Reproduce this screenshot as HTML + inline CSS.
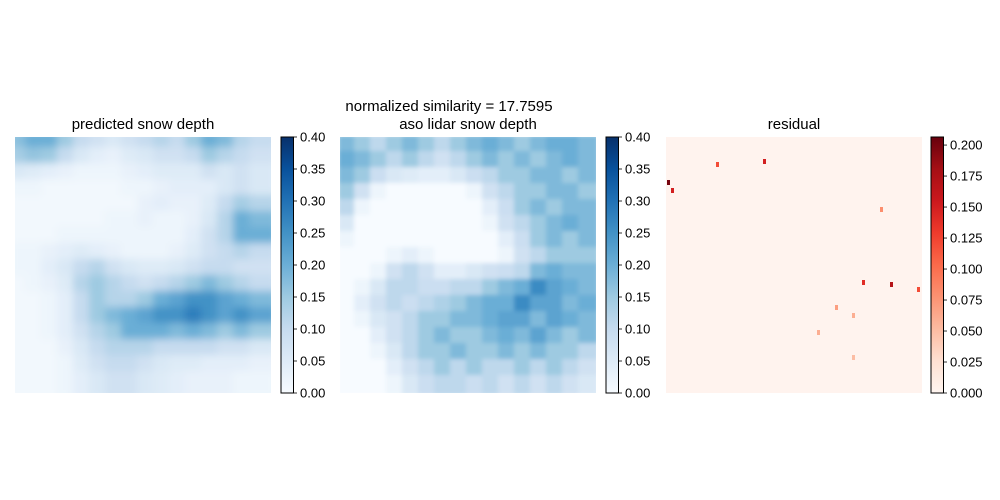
<!DOCTYPE html>
<html><head><meta charset="utf-8"><style>
body{margin:0;background:#fff;}
svg{display:block;font-family:"Liberation Sans","DejaVu Sans",sans-serif;}
</style></head><body>
<svg id="fig" width="1000" height="500" viewBox="0 0 1000 500" xmlns="http://www.w3.org/2000/svg">
<defs>
<linearGradient id="gBlues" x1="0" y1="1" x2="0" y2="0">
<stop offset="0" stop-color="#f7fbff"/><stop offset=".125" stop-color="#deebf7"/><stop offset=".25" stop-color="#c6dbef"/><stop offset=".375" stop-color="#9ecae1"/><stop offset=".5" stop-color="#6baed6"/><stop offset=".625" stop-color="#4292c6"/><stop offset=".75" stop-color="#2171b5"/><stop offset=".875" stop-color="#08519c"/><stop offset="1" stop-color="#08306b"/>
</linearGradient>
<linearGradient id="gReds" x1="0" y1="1" x2="0" y2="0">
<stop offset="0" stop-color="#fff5f0"/><stop offset=".125" stop-color="#fee0d2"/><stop offset=".25" stop-color="#fcbba1"/><stop offset=".375" stop-color="#fc9272"/><stop offset=".5" stop-color="#fb6a4a"/><stop offset=".625" stop-color="#ef3b2c"/><stop offset=".75" stop-color="#cb181d"/><stop offset=".875" stop-color="#a50f15"/><stop offset="1" stop-color="#67000d"/>
</linearGradient>
<filter id="blur" x="0" y="0" width="100%" height="100%"><feGaussianBlur stdDeviation="4"/></filter>
<filter id="blur2" x="0" y="0" width="100%" height="100%"><feGaussianBlur stdDeviation="2"/></filter>
<clipPath id="c1"><rect x="15" y="137" width="256" height="256"/></clipPath>
<clipPath id="c2"><rect x="340" y="137" width="256" height="256"/></clipPath>
</defs>
<text x="143" y="129" font-size="15" text-anchor="middle">predicted snow depth</text>
<text x="449" y="111" font-size="15" text-anchor="middle">normalized similarity = 17.7595</text>
<text x="468" y="129" font-size="15" text-anchor="middle">aso lidar snow depth</text>
<text x="794" y="129" font-size="15" text-anchor="middle">residual</text>
<g id="p1" clip-path="url(#c1)"><g id="p1in" filter="url(#blur)"></g></g>
<g id="p2" clip-path="url(#c2)"><g id="p2in" filter="url(#blur2)"></g></g>
<g id="p3"></g>
<g id="cbs"></g>
</svg>
<script>
const predicted = [
[.17,.2,.2,.15,.1,.08,.06,.08,.1,.12,.1,.15,.2,.18,.12,.1],
[.14,.16,.15,.1,.06,.04,.03,.05,.06,.08,.08,.1,.15,.12,.1,.08],
[.06,.05,.04,.03,.02,.02,.02,.03,.04,.05,.05,.05,.08,.06,.08,.06],
[.02,.02,.01,.01,.01,.01,.01,.02,.02,.03,.04,.04,.04,.06,.08,.06],
[.01,.01,.01,.01,.01,.01,.01,.01,.03,.04,.03,.03,.05,.1,.14,.12],
[.01,.01,.01,.01,.01,.01,.02,.02,.03,.02,.02,.03,.06,.12,.2,.18],
[.01,.01,.01,.02,.02,.02,.02,.02,.02,.02,.02,.04,.08,.12,.2,.2],
[.02,.02,.03,.04,.05,.04,.03,.02,.02,.02,.03,.05,.08,.1,.12,.1],
[.02,.02,.04,.06,.1,.12,.08,.06,.05,.05,.06,.08,.1,.1,.08,.08],
[.01,.02,.03,.05,.12,.15,.12,.1,.08,.1,.12,.15,.18,.15,.12,.1],
[.01,.01,.02,.04,.1,.15,.12,.12,.15,.2,.22,.25,.25,.22,.2,.18],
[.01,.01,.02,.04,.1,.15,.18,.2,.22,.25,.25,.28,.25,.22,.25,.22],
[.01,.01,.02,.04,.08,.12,.15,.2,.2,.2,.18,.2,.18,.15,.18,.15],
[.01,.01,.01,.03,.06,.1,.12,.12,.12,.1,.1,.1,.1,.08,.08,.06],
[.01,.01,.01,.02,.05,.08,.1,.1,.08,.06,.05,.05,.04,.04,.04,.03],
[.01,.01,.01,.02,.04,.06,.08,.08,.06,.05,.04,.03,.03,.03,.02,.02]];
const lidar = [
[.18,.15,.11,.15,.18,.15,.11,.15,.18,.2,.18,.15,.18,.2,.2,.18],
[.2,.18,.15,.11,.15,.11,.08,.11,.15,.18,.15,.18,.15,.18,.2,.18],
[.18,.15,.09,.06,.05,.04,.04,.06,.09,.11,.15,.15,.18,.18,.15,.18],
[.15,.08,.02,0,0,0,0,0,.02,.08,.11,.15,.15,.18,.18,.15],
[.11,.02,0,0,0,0,0,0,0,.04,.09,.15,.18,.15,.18,.18],
[.06,0,0,0,0,0,0,0,0,.02,.08,.11,.15,.18,.2,.18],
[.02,0,0,0,0,0,0,0,0,0,.04,.09,.15,.18,.15,.18],
[0,0,0,.02,.04,.02,0,0,0,0,.02,.08,.11,.15,.15,.15],
[0,0,.02,.08,.11,.08,.04,.04,.06,.08,.09,.11,.18,.2,.18,.18],
[0,.02,.06,.11,.11,.09,.09,.11,.11,.15,.18,.2,.26,.22,.2,.18],
[0,.04,.08,.11,.09,.11,.13,.15,.18,.2,.2,.26,.22,.22,.18,.2],
[0,.02,.06,.08,.11,.15,.15,.18,.18,.2,.22,.22,.18,.22,.2,.18],
[0,0,.04,.08,.11,.15,.18,.15,.15,.18,.2,.18,.22,.18,.15,.18],
[0,0,.02,.06,.11,.15,.15,.18,.15,.15,.18,.15,.18,.15,.15,.11],
[0,0,0,.04,.08,.11,.15,.11,.15,.11,.11,.15,.11,.15,.11,.08],
[0,0,0,.02,.06,.09,.11,.11,.09,.11,.08,.11,.08,.11,.08,.06]];
const residualBackground = 0.002;
const residualSpotCol = [1,5,50,97,196,224,251,169,214,186,151,186];
const residualSpotRow = [43,51,25,22,143,145,150,168,70,176,193,218];
const residualSpotVal = [.2,.15,.12,.15,.14,.17,.12,.07,.08,.06,.06,.05];
const blueTicks = ["0.00","0.05","0.10","0.15","0.20","0.25","0.30","0.35","0.40"];
const redTicks = ["0.000","0.025","0.050","0.075","0.100","0.125","0.150","0.175","0.200"];

const NS="http://www.w3.org/2000/svg";
function mk(t,a,p){const e=document.createElementNS(NS,t);for(const k in a)e.setAttribute(k,a[k]);p.appendChild(e);return e;}
const BL=["#f7fbff","#deebf7","#c6dbef","#9ecae1","#6baed6","#4292c6","#2171b5","#08519c","#08306b"];
const RD=["#fff5f0","#fee0d2","#fcbba1","#fc9272","#fb6a4a","#ef3b2c","#cb181d","#a50f15","#67000d"];
function cmap(s,t){t=Math.max(0,Math.min(1,t));const f=t*8,i=Math.min(7,Math.floor(f)),u=f-i;
 const a=s[i],b=s[i+1];const c=j=>Math.round(parseInt(a.substr(j,2),16)*(1-u)+parseInt(b.substr(j,2),16)*u);
 return `rgb(${c(1)},${c(3)},${c(5)})`;}
const S=256;
function heat(g,data,x0,vmax,pad){
 const n=data.length,cs=S/n;
 data.forEach((row,r)=>row.forEach((v,c)=>{
  const e=mk('rect',{x:x0+c*cs-pad,y:137+r*cs-pad,width:cs+2*pad+0.5,height:cs+2*pad+0.5,fill:cmap(BL,v/vmax)},g);
  
  
 }));
}
heat(document.getElementById('p1in'),predicted,15,0.4,6);
heat(document.getElementById('p2in'),lidar,340,0.4,2);
const p3=document.getElementById('p3'),RMAX=0.2065;
const bg=mk('rect',{x:666,y:137,width:256,height:256,fill:cmap(RD,residualBackground/RMAX)},p3);


residualSpotVal.forEach((v,i)=>{
 const e=mk('rect',{x:666+residualSpotCol[i],y:137+residualSpotRow[i],width:3,height:5,fill:cmap(RD,v/RMAX)},p3);
 
 
});
function cbar(x,grad,ticks,vmax,step,name){
 const g=mk('g',{},document.getElementById('cbs'));
 
 
 mk('rect',{x:x,y:137,width:12.5,height:256,fill:`url(#${grad})`,stroke:'#000','stroke-width':1},g);
 ticks.forEach((t,i)=>{
  const y=393-(i*step)/vmax*256;
  mk('line',{x1:x+12.5,x2:x+16,y1:y,y2:y,stroke:'#000','stroke-width':0.8},g);
  const tx=mk('text',{x:x+19,y:y+4.5,'font-size':13},g);tx.textContent=t;
  
  
 });
}
cbar(281,'gBlues',blueTicks,0.4,0.05,'predicted-colorbar');
cbar(606,'gBlues',blueTicks,0.4,0.05,'lidar-colorbar');
cbar(931,'gReds',redTicks,RMAX,0.025,'residual-colorbar');
</script>
</body></html>
